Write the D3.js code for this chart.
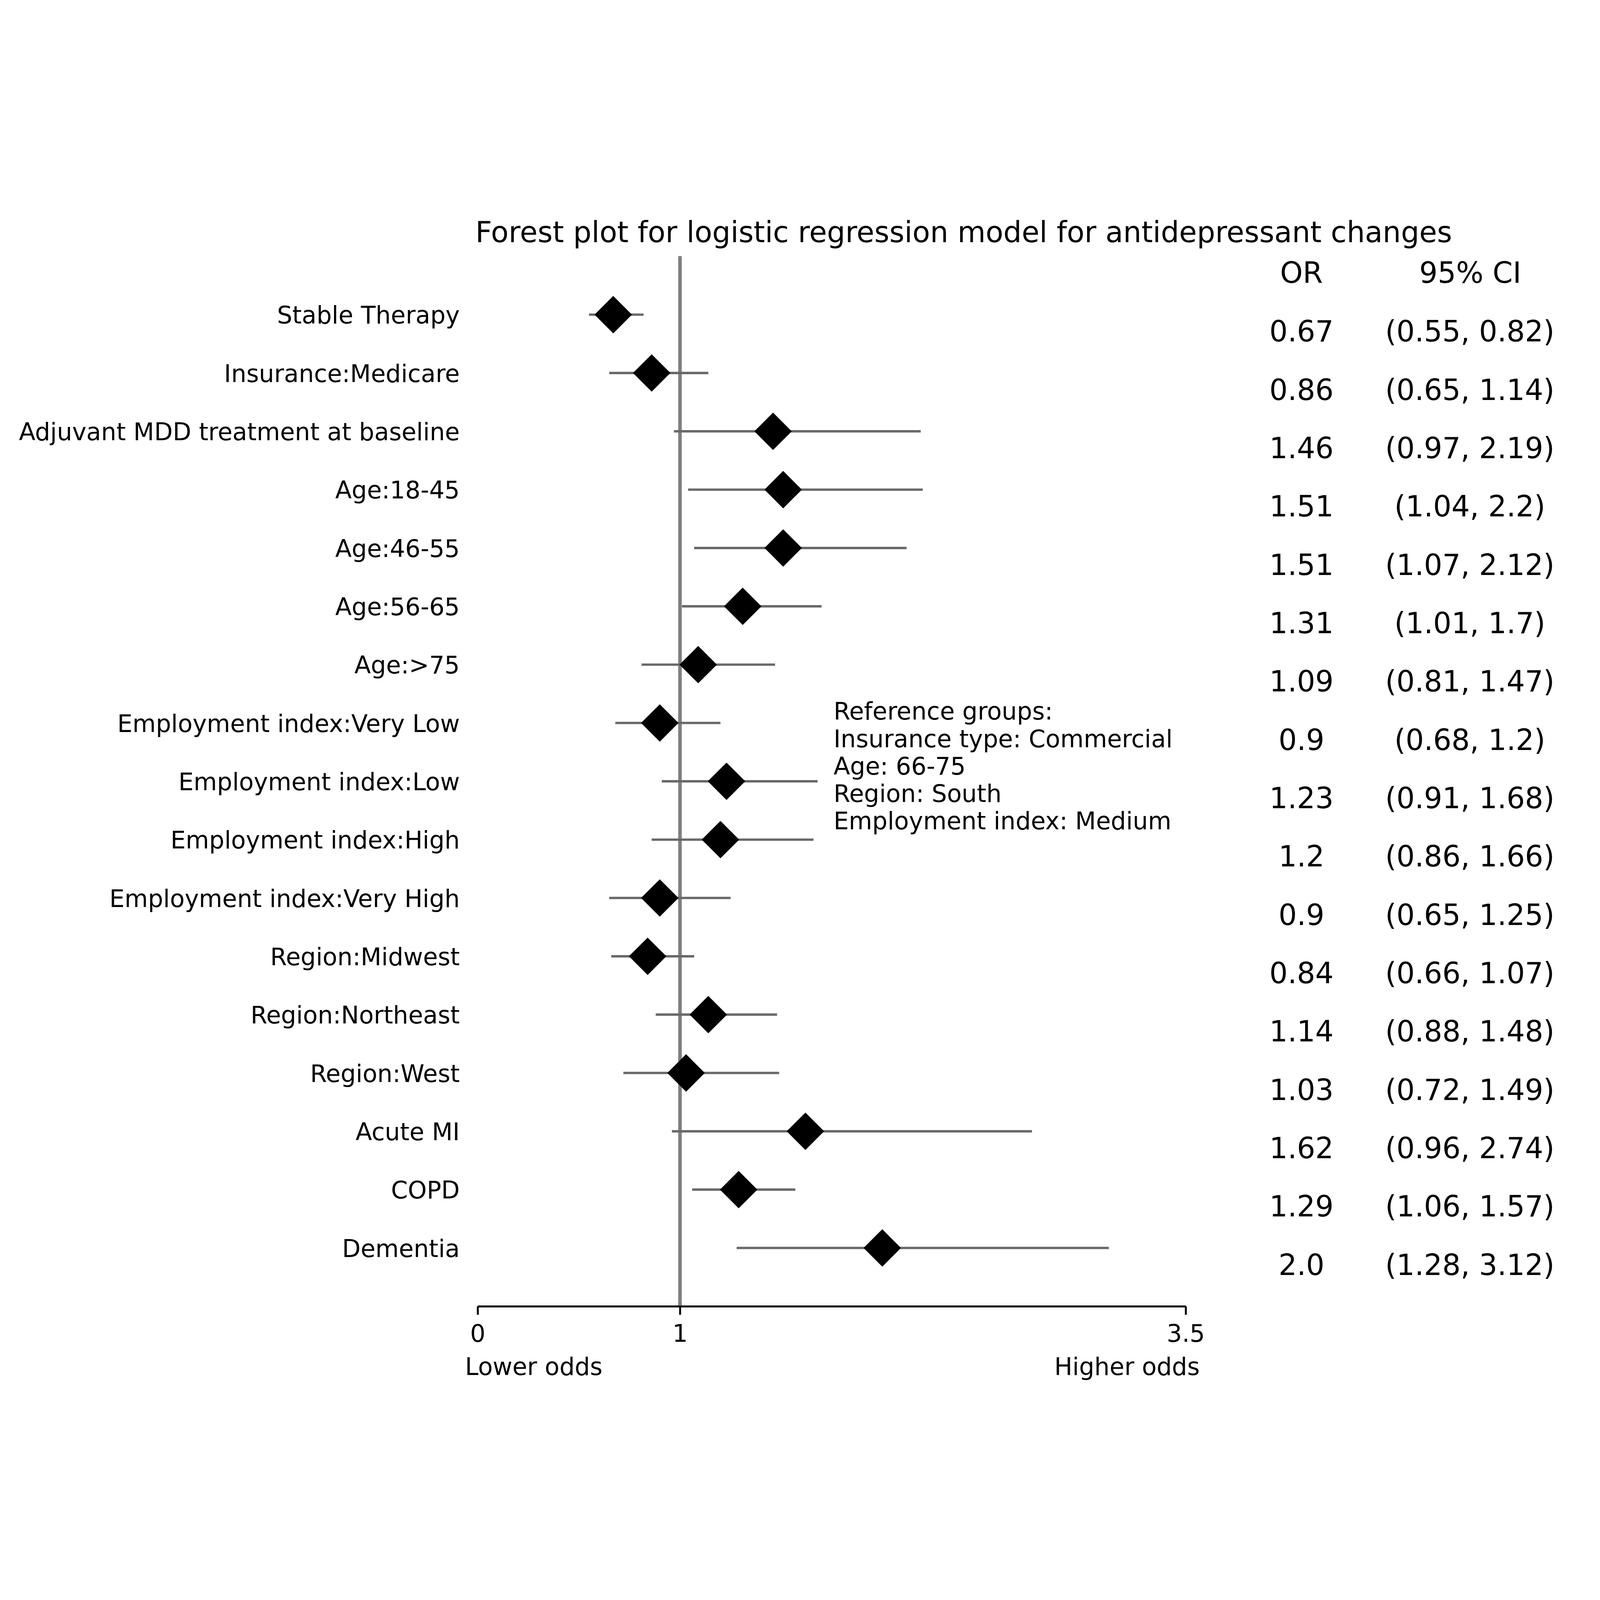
<!DOCTYPE html>
<html>
<head>
<meta charset="utf-8">
<script src="https://cdn.jsdelivr.net/npm/d3@7"></script>
<style>
  html, body { margin: 0; padding: 0; width: 100%; height: 100%; overflow: hidden; background: #fff; }
  #chart { width: 100%; height: 100%; }
  svg { display: block; }
  text { font-family: "DejaVu Sans", sans-serif; fill: #000; }
</style>
</head>
<body>
<div id="chart"></div>
<script>
const labels = ["Stable Therapy", "Insurance:Medicare", "Adjuvant MDD treatment at baseline",
    "Age:18-45", "Age:46-55", "Age:56-65", "Age:>75", "Employment index:Very Low",
    "Employment index:Low", "Employment index:High", "Employment index:Very High",
    "Region:Midwest", "Region:Northeast", "Region:West", "Acute MI", "COPD", "Dementia"]
const oddsRatio = [0.67, 0.86, 1.46, 1.51, 1.51, 1.31, 1.09, 0.9, 1.23, 1.2, 0.9, 0.84, 1.14, 1.03, 1.62, 1.29, 2.0]
const orLabels = ["0.67", "0.86", "1.46", "1.51", "1.51", "1.31", "1.09", "0.9", "1.23", "1.2", "0.9", "0.84", "1.14", "1.03", "1.62", "1.29", "2.0"]
const ciLow = [0.55, 0.65, 0.97, 1.04, 1.07, 1.01, 0.81, 0.68, 0.91, 0.86, 0.65, 0.66, 0.88, 0.72, 0.96, 1.06, 1.28]
const ciHigh = [0.82, 1.14, 2.19, 2.2, 2.12, 1.7, 1.47, 1.2, 1.68, 1.66, 1.25, 1.07, 1.48, 1.49, 2.74, 1.57, 3.12]
const xTicks = [0, 1, 3.5]
const refGroups = ["Reference groups:", "Insurance type: Commercial", "Age: 66-75",
    "Region: South", "Employment index: Medium"]

const width = 7315, height = 5464

const data = labels.map((d, i) => ({
    label: d,
    or: oddsRatio[i],
    orText: orLabels[i],
    lo: ciLow[i],
    hi: ciHigh[i]
}))

const svg = d3.select("#chart")
    .append("svg")
    .attr("width", "100%")
    .attr("height", "100%")
    .attr("viewBox", [0, 0, width, height])

const xScale = d3.scaleLinear().domain([0, 3.5]).range([2184, 5421])
const yScale = d3.scalePoint().domain(labels).range([513, 4780])
const axisY = 5047

// title
svg.append("text")
    .attr("x", 4406)
    .attr("y", 181)
    .attr("text-anchor", "middle")
    .attr("font-size", 132)
    .text("Forest plot for logistic regression model for antidepressant changes")

// reference line at OR = 1
svg.append("line")
    .attr("x1", xScale(1)).attr("x2", xScale(1))
    .attr("y1", 245).attr("y2", axisY)
    .attr("stroke", "#808080")
    .attr("stroke-width", 16.5)

// x axis
const xaxis = d3.axisBottom(xScale)
    .tickValues(xTicks)
    .tickFormat(d => d)
    .tickSize(38.5)
    .tickSizeOuter(0)
    .tickPadding(46)

const gx = svg.append("g")
    .attr("transform", `translate(0,${axisY})`)
    .call(xaxis)
gx.select(".domain").attr("stroke", "#000").attr("stroke-width", 8.8)
gx.selectAll(".tick line").attr("stroke", "#000").attr("stroke-width", 8.8)
gx.selectAll(".tick text")
    .attr("font-size", 110)
    .attr("font-family", "DejaVu Sans")
    .attr("fill", "#000")

svg.append("text")
    .attr("x", 2126).attr("y", 5360)
    .attr("font-size", 110)
    .text("Lower odds")

svg.append("text")
    .attr("x", 5485).attr("y", 5360)
    .attr("text-anchor", "end")
    .attr("font-size", 110)
    .text("Higher odds")

// confidence interval whiskers
svg.selectAll(".ci")
    .data(data)
    .enter().append("line")
    .attr("class", "ci")
    .attr("x1", d => xScale(d.lo))
    .attr("x2", d => xScale(d.hi))
    .attr("y1", d => yScale(d.label))
    .attr("y2", d => yScale(d.label))
    .attr("stroke", "#696969")
    .attr("stroke-width", 11)

// diamonds for odds ratios
const diamond = d3.symbol().type(d3.symbolSquare).size(121 * 121)
svg.selectAll(".dot")
    .data(data)
    .enter().append("path")
    .attr("class", "dot")
    .attr("d", diamond)
    .attr("transform", d => `translate(${xScale(d.or)},${yScale(d.label)}) rotate(45)`)
    .attr("fill", "#000")

// row labels
svg.selectAll(".label")
    .data(data)
    .enter().append("text")
    .attr("class", "label")
    .attr("x", 2102)
    .attr("y", d => yScale(d.label) + 41)
    .attr("text-anchor", "end")
    .attr("font-size", 110)
    .text(d => d.label)

// right-hand table
svg.append("text")
    .attr("x", 5950).attr("y", 367)
    .attr("text-anchor", "middle")
    .attr("font-size", 132)
    .text("OR")

svg.append("text")
    .attr("x", 6722).attr("y", 367)
    .attr("text-anchor", "middle")
    .attr("font-size", 132)
    .text("95% CI")

svg.selectAll(".or-val")
    .data(data)
    .enter().append("text")
    .attr("class", "or-val")
    .attr("x", 5950)
    .attr("y", d => yScale(d.label) + 123)
    .attr("text-anchor", "middle")
    .attr("font-size", 132)
    .text(d => d.orText)

svg.selectAll(".ci-val")
    .data(data)
    .enter().append("text")
    .attr("class", "ci-val")
    .attr("x", 6720)
    .attr("y", d => yScale(d.label) + 123)
    .attr("text-anchor", "middle")
    .attr("font-size", 132)
    .text(d => `(${d.lo}, ${d.hi})`)

// reference groups note
svg.append("text")
    .attr("x", 3811)
    .attr("y", 2365)
    .attr("font-size", 110)
    .selectAll("tspan")
    .data(refGroups)
    .enter().append("tspan")
    .attr("x", 3811)
    .attr("dy", (d, i) => i === 0 ? 0 : 125.2)
    .text(d => d)
</script>
</body>
</html>
